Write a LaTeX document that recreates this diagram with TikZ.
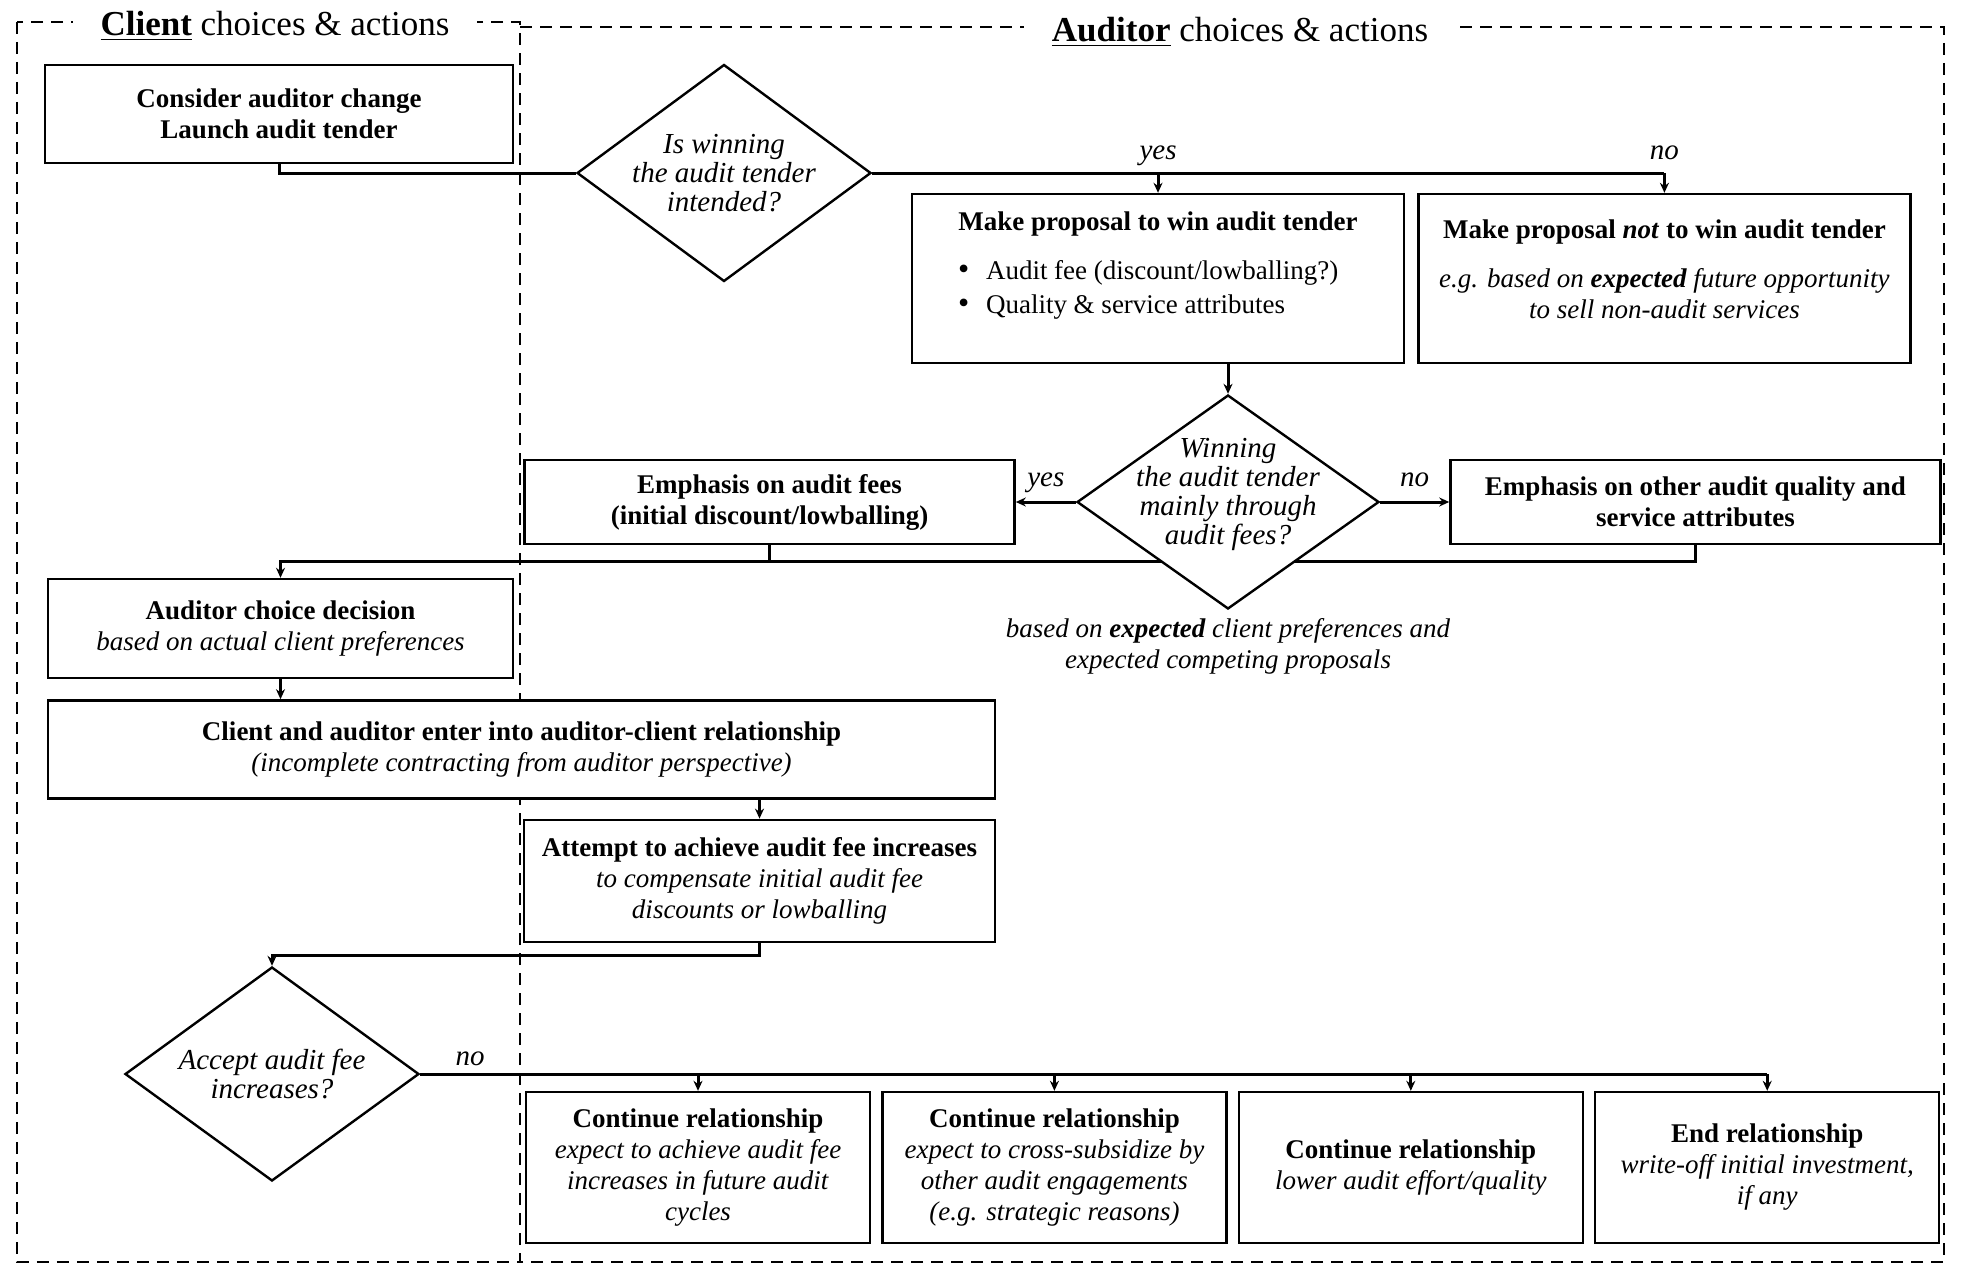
\documentclass[tikz,border=0pt]{standalone}
\usepackage{fontspec}
\setmainfont{Liberation Serif}
\usepackage{tikz}
\usetikzlibrary{arrows.meta, positioning, shapes.geometric, backgrounds}

\newcommand{\boxfont}{\fontsize{13.5}{15.5}\selectfont}
\newcommand{\askfont}{\fontsize{14.5}{14.5}\selectfont\itshape}
\newcommand{\dotitem}{\makebox[14pt][l]{\fontsize{16}{15.5}\selectfont\textbullet}}

\tikzset{
  block/.style={
    rectangle,
    draw=black,
    line width=1.2pt,
    fill=white,
    align=center,
    font=\boxfont,
    inner sep=2pt
  },
  decision/.style={
    diamond,
    draw=black,
    line width=1.2pt,
    fill=white,
    inner sep=0pt
  },
  asktext/.style={
    align=center,
    font=\askfont,
    inner sep=0pt
  },
  lbl/.style={
    font=\askfont,
    inner sep=1pt
  },
  note/.style={
    align=center,
    font=\boxfont\itshape,
    inner sep=1pt
  },
  conn/.style={
    line width=1.5pt
  },
  arrow/.style={
    conn,
    ->
  },
  frame/.style={
    line width=1.3pt,
    dash pattern=on 6pt off 4pt
  },
  paneltitle/.style={
    fill=white,
    inner xsep=14pt,
    font=\fontsize{17.5}{20}\selectfont
  }
}

\begin{document}
\begin{tikzpicture}[x=0.5pt, y=-0.5pt, >={Stealth[length=5pt,width=4.5pt]}]
\useasboundingbox (0,0) rectangle (1962,1279);

% --- panel titles ---
\node (clienttitle) [paneltitle, anchor=base] at (275,36) {\underline{\textbf{Client}} choices \& actions};
\node (audtitle) [paneltitle, anchor=base] at (1240,42) {\underline{\textbf{Auditor}} choices \& actions};

% --- tender ---
\node (consider) [block, minimum width=234pt, minimum height=49pt] at (279,114)
  {\textbf{Consider auditor change}\\\textbf{Launch audit tender}};
\node (winq) [decision, minimum width=147pt, minimum height=108.5pt,
  label={[asktext, name=winqtext]center:{Is winning\\the audit tender\\intended?}}] at (724,173) {};

% --- proposals ---
\node (propose) [block, minimum width=246pt, minimum height=84.5pt] at (1158,278.5)
  {\textbf{Make proposal to win audit tender}\\[9pt]
   \makebox[200pt][l]{\dotitem Audit fee (discount/lowballing?)}\\[1.5pt]
   \makebox[200pt][l]{\dotitem Quality \& service attributes}\\
   \mbox{}};
\node (offer) [block, right=6pt of propose, minimum width=246pt, minimum height=84.5pt]
  {\textbf{Make proposal \textit{not} to win audit tender}\\[9pt]
   \textit{e.g. based on \textbf{expected} future opportunity}\\
   \textit{to sell non-audit services}\\[-6pt]
   \mbox{}};

% --- fee or quality ---
\node (mainly) [decision, minimum width=151pt, minimum height=107pt,
  label={[asktext, name=mainlytext, yshift=4pt]center:{Winning\\the audit tender\\mainly through\\audit fees?}}] at (1228,502) {};
\node (feefocus) [block, left=30pt of mainly, minimum width=245pt, minimum height=42pt]
  {\textbf{Emphasis on audit fees}\\\textbf{(initial discount/lowballing)}};
\node (qualfocus) [block, right=34.5pt of mainly, minimum width=245pt, minimum height=42pt]
  {\textbf{Emphasis on other audit quality and}\\\textbf{service attributes}};
\node (basis) [note, below=3pt of mainly.south]
  {based on \textbf{expected} client preferences and\\expected competing proposals};

% --- choice and relationship ---
\node (choice) [block, minimum width=232.5pt, minimum height=49.5pt] at (280.5,628.5)
  {\textbf{Auditor choice decision}\\\textit{based on actual client preferences}};
\node (enter) [block, below=10pt of choice.south west, anchor=north west, minimum width=473.5pt, minimum height=49pt]
  {\textbf{Client and auditor enter into auditor-client relationship}\\\textit{(incomplete contracting from auditor perspective)}};
\node (attempt) [block, below=9.5pt of enter.south east, anchor=north east, minimum width=235.5pt, minimum height=61pt]
  {\textbf{Attempt to achieve audit fee increases}\\\textit{to compensate initial audit fee}\\\textit{discounts or lowballing}};
\node (accept) [decision, minimum width=147pt, minimum height=107pt,
  label={[asktext, name=accepttext]center:{Accept audit fee\\increases?}}] at (272,1074) {};

% --- outcomes ---
\node (cont1) [block, minimum width=172pt, minimum height=75.5pt] at (698,1167.5)
  {\textbf{Continue relationship}\\\textit{expect to achieve audit fee}\\\textit{increases in future audit}\\\textit{cycles}};
\node (cont2) [block, right=5pt of cont1, minimum width=172pt, minimum height=75.5pt]
  {\textbf{Continue relationship}\\\textit{expect to cross-subsidize by}\\\textit{other audit engagements}\\\textit{(e.g. strategic reasons)}};
\node (cont3) [block, right=5pt of cont2, minimum width=172pt, minimum height=75.5pt]
  {\textbf{Continue relationship}\\\textit{lower audit effort/quality}};
\node (endrel) [block, right=5pt of cont3, minimum width=172pt, minimum height=75.5pt]
  {\textbf{End relationship}\\\textit{write-off initial investment,}\\\textit{if any}};

% --- arrows ---
\draw[conn] (consider.south) |- (winq.west);
\draw[conn] (winq.east) -- (winq.east -| offer.north);
\draw[arrow] (winq.east -| propose.north) -- (propose.north);
\draw[arrow] (winq.east -| offer.north) -- (offer.north);
\node (yes1) [lbl, anchor=base, yshift=7pt] at (winq.east -| propose.north) {yes};
\node (no1) [lbl, anchor=base, yshift=7pt] at (winq.east -| offer.north) {no};

\draw[arrow] (propose.south -| mainly.north) -- (mainly.north);
\draw[arrow] (mainly.west) -- node[lbl, anchor=base, yshift=8pt] (yes2) {yes} (feefocus.east);
\draw[arrow] (mainly.east) -- node[lbl, anchor=base, yshift=8pt] (no2) {no} (qualfocus.west);

\draw[arrow] (choice.south) -- (choice.south |- enter.north);
\draw[arrow] (enter.south -| attempt.north) -- (attempt.north);
\draw[arrow] (attempt.south) -- ++(0,12) -| (accept.north);

\draw[conn] (accept.east) -- (accept.east -| endrel.north);
\foreach \j in {cont1,cont2,cont3,endrel}
  \draw[arrow] (accept.east -| \j.north) -- (\j.north);
\node (no3) [lbl, anchor=base west, xshift=16.5pt, yshift=4.5pt] at (accept.east) {no};

% --- frames and merge, behind ---
\begin{scope}[on background layer]
\draw[frame] (17,22) rectangle (520,1262);
\draw[frame] (520,27) -- (1944,27) -- (1944,1262) -- (520,1262);
\draw[conn] (feefocus.south) -- ++(0,16);
\draw[arrow] (qualfocus.south) -- ++(0,16) -| (choice.north);
\end{scope}

\end{tikzpicture}
\end{document}
